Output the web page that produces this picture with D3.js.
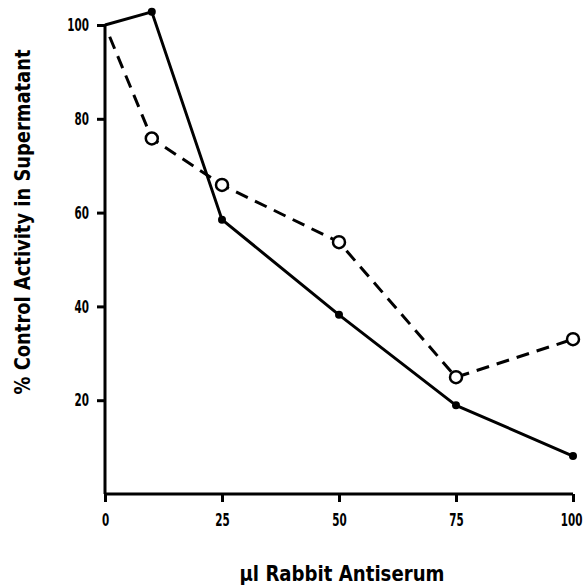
<!DOCTYPE html>
<html>
<head>
<meta charset="utf-8">
<script src="https://cdn.jsdelivr.net/npm/d3@7"></script>
<style>
  body { margin: 0; background: #fff; }
  svg text { font-family: "DejaVu Sans Condensed", "DejaVu Sans", sans-serif; font-weight: bold; fill: #000; }
</style>
</head>
<body>
<div id="chart"></div>
<script>
var antiserum = [0, 10, 25, 50, 75, 100];
var solidValues = [100, 102.8, 58.5, 38.2, 18.9, 8.1];
var dashedX = [1, 10, 25, 50, 75, 100];
var dashedValues = [97.5, 75.8, 65.9, 53.7, 24.9, 33.0];
var dashedMarked = [false, true, true, true, true, true];
var xTicks = [0, 25, 50, 75, 100];
var yTicks = [20, 40, 60, 80, 100];

var drawChart = (function () {
    const size = 586;
    const squeeze = 0.64; // narrow the digits like the condensed face of the original

    var svg = d3.select("#chart").append("svg")
        .attr("width", size)
        .attr("height", size);

    var x = d3.scaleLinear().domain([0, 100]).range([105, 573]);
    var y = d3.scaleLinear().domain([0, 100]).range([494, 25]);

    // axes
    var xAxis = svg.append("g")
        .attr("transform", "translate(0," + y(0) + ")")
        .call(d3.axisBottom(x).tickValues(xTicks).tickSize(8).tickPadding(11).tickSizeOuter(0));
    var yAxis = svg.append("g")
        .attr("transform", "translate(" + x(0) + ",0)")
        .call(d3.axisLeft(y).tickValues(yTicks).tickSize(8).tickPadding(8).tickSizeOuter(0));

    [xAxis, yAxis].forEach(function (g) {
        g.select(".domain").attr("stroke", "#000").attr("stroke-width", 3);
        g.selectAll(".tick line").attr("stroke", "#000").attr("stroke-width", 3);
        g.selectAll(".tick text")
            .style("font-size", "18px")
            .attr("fill", "#000")
            .attr("transform", "scale(" + squeeze + ",1)");
    });
    yAxis.selectAll(".tick text").attr("x", -16 / squeeze);
    // keep the last x label inside the picture
    xAxis.selectAll(".tick text").filter(function (d) { return d === 100; })
        .attr("text-anchor", "end")
        .attr("x", 9 / squeeze);
    yAxis.select(".domain").attr("d", "M0," + y(0) + "V" + y(100));
    xAxis.select(".domain").attr("d", "M" + x(0) + ",0H" + x(100));

    // solid series
    var solid = antiserum.map(function (d, i) { return [d, solidValues[i]]; });
    var line = d3.line()
        .x(function (d) { return x(d[0]); })
        .y(function (d) { return y(d[1]); });

    svg.append("path")
        .datum(solid)
        .attr("d", line)
        .attr("fill", "none")
        .attr("stroke", "#000")
        .attr("stroke-width", 3)
        .attr("stroke-linejoin", "round");

    svg.selectAll("circle.filled")
        .data(solid.slice(1))
        .enter()
        .append("circle")
        .attr("class", "filled")
        .attr("cx", function (d) { return x(d[0]); })
        .attr("cy", function (d) { return y(d[1]); })
        .attr("r", 4)
        .attr("fill", "#000");

    // dashed series
    var dashed = dashedX.map(function (d, i) { return [d, dashedValues[i], dashedMarked[i]]; });
    svg.append("path")
        .datum(dashed)
        .attr("d", line)
        .attr("fill", "none")
        .attr("stroke", "#000")
        .attr("stroke-width", 3)
        .attr("stroke-dasharray", "13,8");

    svg.selectAll("circle.open")
        .data(dashed.filter(function (d) { return d[2]; }))
        .enter()
        .append("circle")
        .attr("class", "open")
        .attr("cx", function (d) { return x(d[0]); })
        .attr("cy", function (d) { return y(d[1]); })
        .attr("r", 6)
        .attr("fill", "#fff")
        .attr("stroke", "#000")
        .attr("stroke-width", 2.5);

    // titles
    svg.append("text")
        .attr("transform", "translate(30,222) rotate(-90)")
        .attr("text-anchor", "middle")
        .attr("lengthAdjust", "spacingAndGlyphs")
        .attr("textLength", 345)
        .style("font-size", "21px")
        .text("% Control Activity in Supermatant");

    svg.append("text")
        .attr("x", 342)
        .attr("y", 581)
        .attr("text-anchor", "middle")
        .attr("lengthAdjust", "spacingAndGlyphs")
        .attr("textLength", 205)
        .style("font-size", "21px")
        .text("\u00b5l Rabbit Antiserum");
}());
</script>
</body>
</html>
